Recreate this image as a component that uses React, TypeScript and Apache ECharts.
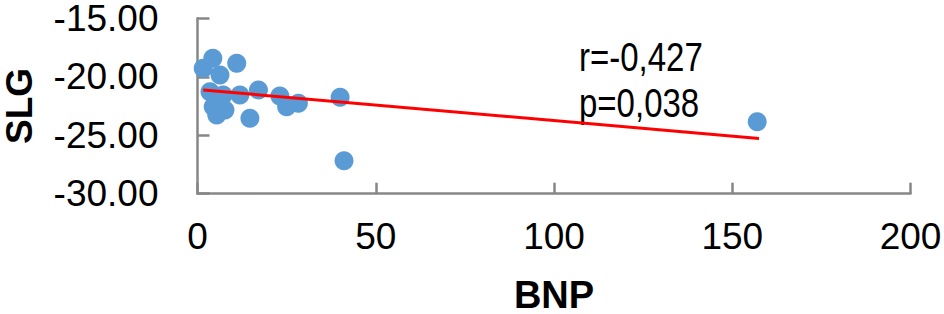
import React, { useEffect, useRef } from "react";
import * as echarts from "echarts";

const bnp = [4.3, 1.6, 11.0, 6.3, 3.5, 7.2, 11.9, 17.1, 4.4, 5.4, 7.7, 14.7, 23.1, 25.0, 28.3, 40.0, 41.1, 157.0];
const slg = [-18.42, -19.28, -18.85, -19.85, -21.28, -21.56, -21.56, -21.13, -22.56, -23.27, -22.84, -23.55, -21.65, -22.56, -22.27, -21.76, -27.18, -23.85];
const trendX = [1.6, 157.5];
const trendY = [-21.13, -25.27];
const statsText = ["r=-0,427", "p=0,038"];
const xTicks = { min: 0, max: 200, interval: 50 };
const yTicks = { min: -30, max: -15, interval: 5 };

export default function App() {
  const ref = useRef<HTMLDivElement>(null);
  useEffect(() => {
    const chart = echarts.init(ref.current!, null, { renderer: "svg" });
    const axisGray = "#878787";
    const font = "Liberation Sans, Arial, sans-serif";
    chart.setOption({
      animation: false,
      grid: {
        left: 197.5,
        right: 33.5,
        top: 18.3,
        bottom: 120.3,
        containLabel: false,
        outerBoundsMode: "none",
      },
      xAxis: {
        type: "value",
        min: xTicks.min,
        max: xTicks.max,
        interval: xTicks.interval,
        name: "BNP",
        nameLocation: "middle",
        nameGap: 86,
        nameTextStyle: { color: "#000", fontSize: 38, lineHeight: 30, fontWeight: "bold", fontFamily: font },
        axisLine: { show: true, lineStyle: { color: axisGray, width: 2.5 } },
        axisTick: { show: true, inside: true, length: 11, lineStyle: { color: axisGray, width: 2.5 } },
        axisLabel: { color: "#000", fontSize: 37, fontFamily: font, margin: 24 },
        splitLine: { show: false },
      },
      yAxis: {
        type: "value",
        min: yTicks.min,
        max: yTicks.max,
        interval: yTicks.interval,
        name: "SLG",
        nameLocation: "middle",
        nameGap: 160,
        nameTextStyle: { color: "#000", fontSize: 37, fontWeight: "bold", fontFamily: font },
        axisLine: { show: true, lineStyle: { color: axisGray, width: 2.5 } },
        axisTick: { show: true, inside: true, length: 12, lineStyle: { color: axisGray, width: 2.5 } },
        axisLabel: {
          color: "#000",
          fontSize: 37,
          lineHeight: 30,
          fontFamily: font,
          margin: 39,
          padding: [0, 0, 5, 0],
          formatter: (v: number) => v.toFixed(2),
        },
        splitLine: { show: false },
      },
      series: [
        {
          type: "scatter",
          data: bnp.map((x, i) => [x, slg[i]]),
          symbolSize: 19,
          itemStyle: { color: "#5b9bd5", opacity: 1 },
          z: 2,
        },
        {
          type: "line",
          data: trendX.map((x, i) => [x, trendY[i]]),
          showSymbol: false,
          symbol: "none",
          lineStyle: { color: "#ff0000", width: 3 },
          z: 3,
        },
      ],
      graphic: [
        {
          type: "text",
          x: 579,
          y: 57,
          scaleY: 1.25,
          style: { text: statsText[0], fill: "#000", font: `33px ${font}`, verticalAlign: "middle", align: "left" },
        },
        {
          type: "text",
          x: 579,
          y: 102.5,
          scaleY: 1.25,
          style: { text: statsText[1], fill: "#000", font: `33px ${font}`, verticalAlign: "middle", align: "left" },
        },
      ],
    });
    return () => chart.dispose();
  }, []);
  return (
    <div
      ref={ref}
      style={{ position: "fixed", left: 0, top: 0, width: 944, height: 314, background: "#fff" }}
    />
  );
}
